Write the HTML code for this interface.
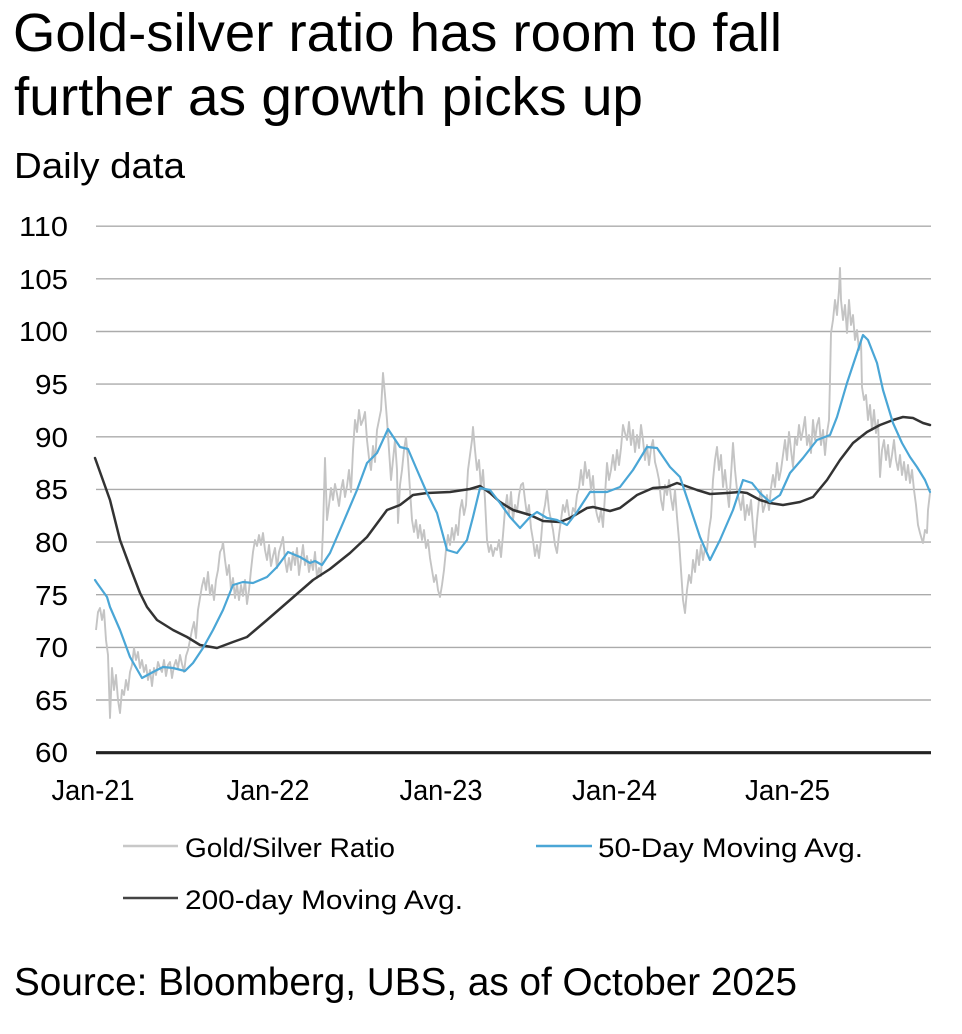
<!DOCTYPE html>
<html><head><meta charset="utf-8"><style>
html,body{margin:0;padding:0;background:#fff;}
svg{display:block;}
text{font-family:"Liberation Sans",Arial,sans-serif;fill:#000;}
</style></head><body>
<svg width="962" height="1034" viewBox="0 0 962 1034" xmlns="http://www.w3.org/2000/svg">
<text x="13" y="51" font-size="54" textLength="769" lengthAdjust="spacingAndGlyphs">Gold-silver ratio has room to fall</text>
<text x="14" y="115" font-size="54" textLength="629" lengthAdjust="spacingAndGlyphs">further as growth picks up</text>
<text x="14" y="178" font-size="36" textLength="171" lengthAdjust="spacingAndGlyphs">Daily data</text>

<g stroke="#ababab" stroke-width="1.4">
<line x1="96" y1="226.2" x2="931" y2="226.2"/>
<line x1="96" y1="278.8" x2="931" y2="278.8"/>
<line x1="96" y1="331.5" x2="931" y2="331.5"/>
<line x1="96" y1="384.1" x2="931" y2="384.1"/>
<line x1="96" y1="436.8" x2="931" y2="436.8"/>
<line x1="96" y1="489.4" x2="931" y2="489.4"/>
<line x1="96" y1="542.1" x2="931" y2="542.1"/>
<line x1="96" y1="594.7" x2="931" y2="594.7"/>
<line x1="96" y1="647.4" x2="931" y2="647.4"/>
<line x1="96" y1="700" x2="931" y2="700"/>
</g>

<g font-size="28" text-anchor="end" fill="#222">
<text x="68" y="236" textLength="49" lengthAdjust="spacingAndGlyphs">110</text>
<text x="68" y="289" textLength="49" lengthAdjust="spacingAndGlyphs">105</text>
<text x="68" y="341" textLength="49" lengthAdjust="spacingAndGlyphs">100</text>
<text x="68" y="394" textLength="33" lengthAdjust="spacingAndGlyphs">95</text>
<text x="68" y="447" textLength="33" lengthAdjust="spacingAndGlyphs">90</text>
<text x="68" y="499" textLength="33" lengthAdjust="spacingAndGlyphs">85</text>
<text x="68" y="552" textLength="33" lengthAdjust="spacingAndGlyphs">80</text>
<text x="68" y="605" textLength="33" lengthAdjust="spacingAndGlyphs">75</text>
<text x="68" y="657" textLength="33" lengthAdjust="spacingAndGlyphs">70</text>
<text x="68" y="710" textLength="33" lengthAdjust="spacingAndGlyphs">65</text>
<text x="68" y="762" textLength="33" lengthAdjust="spacingAndGlyphs">60</text>
</g>

<polyline fill="none" stroke="#c4c4c4" stroke-width="1.9" stroke-linejoin="round" points="96,630 98,612 100,608 102,620 104,610 106,640 108,655 110,718 112,668 114,690 116,675 118,700 120,713 122,690 124,695 126,680 128,690 130,672 132,665 134,648 136,660 138,652 140,668 142,660 144,672 146,665 148,680 150,670 152,686 154,668 156,675 158,662 160,668 162,672 164,660 166,676 168,665 170,662 172,678 174,666 176,660 178,668 180,655 182,664 184,672 186,656 188,650 190,640 192,630 194,622 196,638 198,610 200,598 202,586 204,578 206,590 208,572 210,595 212,585 214,600 216,580 218,570 220,552 222,548 223,542 225,560 227,575 229,565 231,590 233,578 235,598 237,584 239,600 241,585 243,596 245,580 247,604 249,590 251,570 253,552 255,540 257,546 259,535 261,545 263,533 265,550 267,560 269,545 271,566 273,556 275,548 277,568 279,552 281,545 283,537 285,560 287,572 289,558 291,570 293,552 295,565 297,548 299,575 301,560 303,545 305,565 307,556 309,572 311,560 313,570 315,552 317,578 319,568 321,576 323,530 325,458 327,520 329,505 331,488 333,500 335,484 337,494 339,506 341,490 343,480 345,497 347,486 349,470 351,492 353,450 355,420 357,432 359,410 361,425 363,420 365,412 367,440 369,458 371,470 373,446 375,462 377,430 379,420 381,410 383,373 385,395 387,420 389,450 391,480 393,460 395,440 397,470 398,523 400,485 402,470 404,450 406,437 408,460 410,490 412,520 414,532 416,520 418,538 420,525 422,540 424,530 426,548 428,540 430,558 432,570 434,582 436,575 438,590 440,597 442,585 444,570 446,550 448,535 450,545 452,528 454,540 456,525 458,535 460,510 462,500 464,515 466,505 468,470 470,455 472,440 473,427 475,450 477,470 479,460 481,488 483,470 485,500 487,540 489,552 491,545 493,556 495,548 497,550 499,540 501,557 503,535 505,510 507,495 509,515 511,492 513,520 515,505 517,512 519,495 521,485 523,483 525,500 527,515 529,505 531,528 533,540 535,556 537,545 539,558 541,540 543,515 545,505 547,490 549,510 551,520 553,530 555,545 557,553 559,535 561,520 563,505 565,512 567,500 569,515 571,520 573,508 575,512 577,495 579,488 581,470 583,485 585,462 587,478 589,470 591,490 593,476 595,505 597,515 599,522 601,510 603,527 605,495 607,463 609,480 611,470 613,455 615,470 617,450 619,465 621,448 623,425 625,433 627,440 629,422 631,445 633,430 635,452 637,435 639,448 641,425 643,440 645,460 647,445 649,465 651,448 653,440 655,462 657,470 659,480 661,500 663,510 665,485 667,495 669,480 671,498 673,510 675,490 677,517 679,540 681,570 683,600 685,613 687,590 689,575 691,583 693,560 695,572 697,550 699,565 701,545 703,560 705,548 707,550 709,530 711,517 713,480 715,460 717,447 719,470 721,455 723,487 725,470 727,490 729,507 731,475 733,443 735,470 737,490 739,500 741,510 743,495 745,520 747,505 749,515 751,500 753,527 755,547 757,520 759,500 761,490 763,512 765,505 767,495 769,510 771,488 773,475 775,487 777,463 779,480 781,470 783,455 785,440 787,460 789,432 791,450 793,467 795,438 797,445 799,425 801,440 803,430 805,417 807,445 809,435 811,453 813,420 815,440 817,425 819,418 821,445 823,430 825,455 827,433 829,420 830,380 831,333 833,320 835,300 837,315 839,290 840,268 841,300 843,320 845,305 847,333 849,300 851,325 853,315 855,340 857,330 859,350 861,340 862,387 864,400 866,395 868,420 870,405 872,430 874,410 876,433 878,420 880,477 882,450 884,440 886,460 888,445 890,467 892,455 894,440 896,460 898,470 900,455 902,475 904,462 906,480 908,465 910,483 912,470 914,490 916,505 918,525 920,533 922,540 923,543 925,530 927,533 928,510 930,493"/>

<polyline fill="none" stroke="#333333" stroke-width="2.5" stroke-linejoin="round" stroke-linecap="round" points="95,458 110,500 120,540 130,567 140,593 147,607 157,620 173,630 187,637 200,645 217,648 233,642 247,637 267,620 290,600 313,580 330,569 350,553 367,537 387,510 400,505 413,495 427,493 450,492 470,489 480,486 490,493 500,502 513,510 530,515 543,521 560,522 570,518 587,508 593,507 610,511 620,508 637,495 653,488 667,487 677,483 683,485 697,490 710,494 727,493 740,492 747,493 760,500 770,503 783,505 800,502 813,497 827,480 840,460 853,443 867,432 880,425 893,420 903,417 913,418 923,423 930,425"/>

<polyline fill="none" stroke="#4aa6d6" stroke-width="2.2" stroke-linejoin="round" stroke-linecap="round" points="95,580 97,583 107,597 110,607 120,630 130,657 142,678 153,672 163,667 173,668 185,671 193,663 203,648 213,630 223,610 233,585 243,582 253,583 267,577 277,567 288,552 300,557 310,563 315,561 322,565 330,553 343,523 357,490 367,463 377,453 388,429 400,447 408,449 417,470 427,493 437,513 447,550 457,553 467,540 473,517 480,488 490,490 500,503 510,517 520,528 530,517 537,512 547,518 557,520 567,525 577,512 590,492 607,492 620,487 633,470 647,447 657,448 670,467 680,477 690,507 700,537 710,560 720,540 733,510 743,480 752,483 760,493 770,502 780,495 790,473 803,458 817,440 830,435 837,417 847,383 857,353 863,335 868,340 877,363 883,390 893,423 902,443 910,457 917,467 925,480 930,492"/>

<line x1="96" y1="752.7" x2="931" y2="752.7" stroke="#222" stroke-width="3.2"/>

<g font-size="29" text-anchor="middle" fill="#222">
<text x="93" y="800" textLength="83" lengthAdjust="spacingAndGlyphs">Jan-21</text>
<text x="268" y="800" textLength="83" lengthAdjust="spacingAndGlyphs">Jan-22</text>
<text x="441" y="800" textLength="83" lengthAdjust="spacingAndGlyphs">Jan-23</text>
<text x="614.5" y="800" textLength="85" lengthAdjust="spacingAndGlyphs">Jan-24</text>
<text x="787.5" y="800" textLength="85" lengthAdjust="spacingAndGlyphs">Jan-25</text>
</g>

<line x1="123" y1="846" x2="178" y2="846" stroke="#c8c8c8" stroke-width="2.4"/>
<text x="185" y="857" font-size="27" fill="#222" textLength="210" lengthAdjust="spacingAndGlyphs">Gold/Silver Ratio</text>
<line x1="536" y1="846" x2="592" y2="846" stroke="#4aa6d6" stroke-width="2.4"/>
<text x="598" y="857" font-size="27" fill="#222" textLength="265" lengthAdjust="spacingAndGlyphs">50-Day Moving Avg.</text>
<line x1="123" y1="898" x2="178" y2="898" stroke="#444" stroke-width="2.6"/>
<text x="185" y="909" font-size="27" fill="#222" textLength="278" lengthAdjust="spacingAndGlyphs">200-day Moving Avg.</text>

<text x="14" y="995" font-size="39" textLength="783" lengthAdjust="spacingAndGlyphs">Source: Bloomberg, UBS, as of October 2025</text>
</svg>
</body></html>
